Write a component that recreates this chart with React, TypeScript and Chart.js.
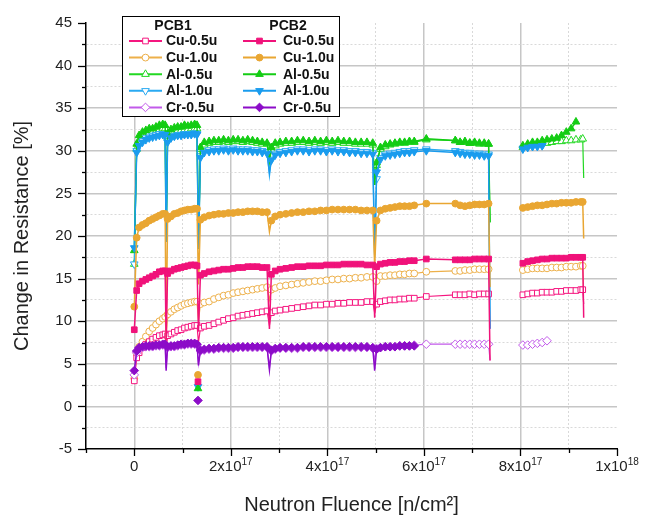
import React, { useEffect, useRef } from 'react';
import { Chart, registerables } from 'chart.js';

Chart.register(...registerables);

const FONT = "'Liberation Sans', Arial, Helvetica, sans-serif";

// Neutron fluence in units of 1e17 n/cm^2
const FLUENCE = [
  0, 0.05, 0.1, 0.17, 0.24, 0.31, 0.38, 0.45, 0.52, 0.59, 0.64, 0.66,
  0.69, 0.76, 0.83, 0.9, 0.97, 1.04, 1.11, 1.18, 1.25, 1.3, 1.33,
  1.37, 1.45, 1.55, 1.65, 1.75, 1.85, 1.95, 2.05, 2.15, 2.25, 2.35, 2.45, 2.55, 2.65, 2.75, 2.8,
  2.84, 2.92, 3.02, 3.14, 3.26, 3.38, 3.5, 3.62, 3.74, 3.86, 3.98, 4.1, 4.22, 4.34, 4.46, 4.58, 4.7, 4.82, 4.94, 4.98,
  5.02, 5.1, 5.2, 5.3, 5.4, 5.5, 5.6, 5.7, 5.8, 6.05, 6.65, 6.75, 6.85, 6.95, 7.05, 7.15, 7.25, 7.34, 7.37,
  7.7,
  8.05, 8.15, 8.25, 8.35, 8.45, 8.55, 8.65, 8.75, 8.85, 8.95, 9.05, 9.15, 9.25, 9.29, 9.31,
];
// interruptions of the irradiation (short dips, drawn without markers)
const DROP_FLUENCE = [0.66, 1.33, 2.8, 4.98, 7.37, 9.31];

const CU05_PCB1 = [
  3.0, 5.7, 6.3, 6.9, 7.3, 7.6, 7.9, 8.1, 8.3, 8.4, 8.5, 6.5,
  8.3, 8.5, 8.7, 8.9, 9.0, 9.2, 9.3, 9.4, 9.5, 9.5, 7.5,
  9.2, 9.4, 9.5, 9.7, 9.9, 10.1, 10.3, 10.4, 10.6, 10.7, 10.8, 10.9, 11.0, 11.1, 11.2, 9.5,
  11.0, 11.2, 11.3, 11.4, 11.5, 11.6, 11.7, 11.8, 11.9, 11.9, 12.0, 12.0, 12.1, 12.1, 12.2, 12.2, 12.2, 12.3, 12.3, 11.0,
  12.0, 12.3, 12.4, 12.5, 12.5, 12.6, 12.6, 12.7, 12.7, 12.9, 13.1, 13.1, 13.1, 13.2, 13.1, 13.2, 13.2, 13.2, 12.7,
  null,
  13.1, 13.2, 13.3, 13.3, 13.4, 13.4, 13.4, 13.5, 13.5, 13.6, 13.6, 13.6, 13.7, 13.7, 12.0,
];
const CU05_PCB2 = [
  9.0, 13.6, 14.4, 14.7, 14.9, 15.1, 15.3, 15.5, 15.8, 15.9, 15.9, 7.7,
  15.6, 15.9, 16.1, 16.2, 16.3, 16.4, 16.5, 16.6, 16.6, 16.5, 8.8,
  15.4, 15.6, 15.8, 15.9, 16.0, 16.1, 16.1, 16.2, 16.3, 16.3, 16.4, 16.4, 16.4, 16.3, 16.3, 9.1,
  15.5, 15.9, 16.1, 16.2, 16.3, 16.4, 16.4, 16.5, 16.5, 16.5, 16.6, 16.6, 16.6, 16.7, 16.7, 16.7, 16.7, 16.6, 16.6, 10.4,
  16.4, 16.7, 16.8, 16.9, 16.9, 17.0, 17.0, 17.1, 17.1, 17.3, 17.2, 17.2, 17.2, 17.2, 17.3, 17.3, 17.3, 17.3, 5.4,
  null,
  16.8, 17.0, 17.1, 17.2, 17.3, 17.3, 17.4, 17.4, 17.4, 17.4, 17.5, 17.5, 17.5, 17.5, 10.4,
];
const CU10_PCB1 = [
  3.3, 6.2, 7.0, 7.6, 8.2, 8.8, 9.2, 9.6, 10.0, 10.3, 10.5, 8.0,
  10.8, 11.1, 11.4, 11.6, 11.8, 12.0, 12.1, 12.2, 12.3, 12.3, 10.0,
  12.0, 12.2, 12.3, 12.6, 12.8, 13.0, 13.1, 13.3, 13.4, 13.5, 13.6, 13.7, 13.8, 13.9, 14.0, 12.5,
  13.7, 13.9, 14.1, 14.2, 14.3, 14.4, 14.5, 14.6, 14.7, 14.7, 14.8, 14.9, 14.9, 15.0, 15.0, 15.1, 15.1, 15.2, 15.2, 14.5,
  14.7, 15.3, 15.3, 15.4, 15.4, 15.5, 15.5, 15.6, 15.6, 15.8, 15.9, 15.9, 16.0, 16.0, 16.1, 16.1, 16.1, 16.1, 15.5,
  null,
  16.0, 16.1, 16.2, 16.2, 16.2, 16.2, 16.3, 16.3, 16.3, 16.4, 16.4, 16.4, 16.5, 16.5, 13.3,
];
const CU10_PCB2 = [
  11.7, 19.8, 21.0, 21.3, 21.5, 21.8, 22.0, 22.2, 22.4, 22.6, 22.6, 7.7,
  22.0, 22.3, 22.6, 22.7, 22.9, 23.0, 23.1, 23.1, 23.2, 23.2, 14.3,
  21.9, 22.2, 22.4, 22.5, 22.6, 22.6, 22.7, 22.7, 22.8, 22.8, 22.9, 22.9, 22.9, 22.8, 22.8, 20.5,
  21.8, 22.3, 22.5, 22.6, 22.7, 22.8, 22.8, 22.9, 22.9, 23.0, 23.0, 23.1, 23.1, 23.1, 23.1, 23.1, 23.0, 23.0, 23.0, 16.5,
  21.8, 23.0, 23.2, 23.3, 23.4, 23.5, 23.5, 23.5, 23.6, 23.8, 23.8, 23.6, 23.5, 23.6, 23.7, 23.7, 23.7, 23.8, 14.0,
  null,
  23.3, 23.4, 23.5, 23.6, 23.6, 23.7, 23.8, 23.8, 23.9, 23.9, 23.9, 24.0, 24.0, 24.0, 19.7,
];
const AL05_PCB1 = [
  16.7, 30.2, 31.2, 31.6, 31.9, 32.1, 32.2, 32.3, 32.5, 32.6, 32.6, 19.5,
  31.6, 32.1, 32.3, 32.4, 32.4, 32.5, 32.5, 32.6, 32.6, 32.6, 18.5,
  30.2, 30.7, 30.9, 31.0, 31.0, 31.1, 31.0, 31.1, 31.1, 31.0, 31.1, 31.0, 30.9, 30.8, 30.8, 28.5,
  30.1, 30.6, 30.8, 30.9, 30.9, 31.0, 31.0, 30.9, 31.0, 30.9, 31.0, 30.9, 31.0, 30.9, 30.9, 30.8, 30.8, 30.8, 30.7, 26.0,
  28.3, 30.2, 30.5, 30.7, 30.8, 30.9, 30.9, 31.0, 31.0, 31.3, 31.2, 31.0, 31.0, 30.9, 30.9, 30.8, 30.8, 30.8, 21.6,
  null,
  30.4, 30.6, 30.7, 30.8, 30.9, 30.9, 31.0, 31.1, 31.1, 31.2, 31.2, 31.3, 31.3, 31.4, 26.8,
];
const AL05_PCB2 = [
  18.3, 30.8, 31.8, 32.2, 32.4, 32.6, 32.6, 32.8, 33.0, 33.1, 33.0, 19.5,
  32.0, 32.5, 32.7, 32.8, 32.8, 33.0, 32.9, 33.0, 33.1, 33.0, 18.5,
  30.4, 31.0, 31.1, 31.2, 31.2, 31.3, 31.2, 31.3, 31.3, 31.2, 31.3, 31.2, 31.1, 31.0, 30.9, 29.0,
  30.4, 30.9, 31.0, 31.1, 31.1, 31.2, 31.2, 31.1, 31.2, 31.1, 31.2, 31.1, 31.2, 31.1, 31.1, 31.0, 31.0, 31.0, 30.9, 26.0,
  28.6, 30.4, 30.7, 30.8, 30.9, 31.0, 31.0, 31.1, 31.1, 31.4, 31.2, 31.0, 31.1, 30.9, 31.0, 30.9, 30.9, 30.8, 21.6,
  null,
  30.6, 30.8, 31.0, 31.0, 31.2, 31.3, 31.4, 31.5, 31.8, 32.2, 32.6, 33.4, null, null, null,
];
const AL10_PCB1 = [
  16.7, 30.0, 30.8, 31.2, 31.5, 31.7, 31.8, 31.9, 32.0, 32.0, 32.0, 19.3,
  31.2, 31.6, 31.8, 31.9, 31.9, 32.0, 32.0, 32.0, 32.1, 32.0, 18.5,
  29.4, 30.0, 30.1, 30.2, 30.2, 30.3, 30.2, 30.3, 30.2, 30.2, 30.2, 30.1, 30.1, 30.0, 29.9, 27.0,
  29.0, 29.7, 29.9, 30.0, 30.1, 30.2, 30.2, 30.1, 30.2, 30.2, 30.1, 30.2, 30.1, 30.1, 30.0, 30.0, 29.9, 29.9, 29.8, 17.8,
  26.7, 29.2, 29.6, 29.7, 29.8, 29.9, 30.0, 30.0, 30.1, 30.2, 30.0, 29.9, 29.8, 29.8, 29.7, 29.7, 29.6, 29.6, 9.1,
  null,
  30.3, 30.4, 30.5, 30.6, 30.6, null, null, null, null, null, null, null, null, null, null,
];
const AL10_PCB2 = [
  18.6, 29.8, 30.6, 31.0, 31.3, 31.5, 31.6, 31.7, 31.8, 31.9, 31.9, 19.3,
  31.0, 31.5, 31.7, 31.8, 31.8, 31.9, 31.9, 31.9, 32.0, 31.9, 18.5,
  29.2, 29.8, 29.9, 30.0, 30.0, 30.1, 30.0, 30.1, 30.0, 30.0, 30.0, 29.9, 29.9, 29.8, 29.7, 27.5,
  28.9, 29.5, 29.7, 29.8, 29.9, 30.0, 30.0, 29.9, 30.0, 30.0, 29.9, 30.0, 29.9, 29.9, 29.8, 29.8, 29.7, 29.7, 29.6, 17.8,
  27.5, 29.0, 29.4, 29.5, 29.6, 29.7, 29.8, 29.8, 29.9, 30.0, 29.8, 29.7, 29.6, 29.6, 29.5, 29.5, 29.4, 29.4, 9.1,
  null,
  30.2, 30.4, 30.5, 30.5, 30.6, null, null, null, null, null, null, null, null, null, null,
];
const CR05_PCB1 = [
  3.7, 6.3, 6.8, 6.9, 7.0, 7.0, 7.0, 7.1, 7.1, 7.2, 7.2, 4.5,
  6.9, 7.0, 7.0, 7.1, 7.2, 7.2, 7.3, 7.3, 7.3, 7.2, 5.0,
  6.5, 6.6, 6.7, 6.7, 6.8, 6.8, 6.8, 6.8, 6.9, 6.9, 6.9, 6.9, 6.9, 6.9, 6.9, 4.5,
  6.5, 6.7, 6.8, 6.8, 6.8, 6.8, 6.9, 6.9, 6.9, 6.9, 6.9, 6.9, 6.9, 6.9, 6.9, 6.9, 6.9, 6.9, 6.8, 5.5,
  6.8, 6.9, 7.0, 7.0, 7.0, 7.1, 7.1, 7.1, 7.2, 7.3, 7.3, 7.3, 7.3, 7.3, 7.3, 7.3, 7.3, 7.3, 5.4,
  null,
  7.2, 7.2, 7.3, 7.4, 7.5, 7.7, null, null, null, null, null, null, null, null, null,
];
const CR05_PCB2 = [
  4.2, 6.5, 6.9, 7.0, 7.1, 7.1, 7.1, 7.2, 7.2, 7.3, 7.3, 4.2,
  7.0, 7.1, 7.1, 7.2, 7.3, 7.3, 7.4, 7.4, 7.4, 7.3, 4.8,
  6.6, 6.7, 6.8, 6.8, 6.9, 6.9, 6.9, 6.9, 7.0, 7.0, 7.0, 7.0, 7.0, 7.0, 7.0, 4.3,
  6.6, 6.8, 6.9, 6.9, 6.9, 6.9, 7.0, 7.0, 7.0, 7.0, 7.0, 7.0, 7.0, 7.0, 7.0, 7.0, 7.0, 7.0, 6.9, 4.2,
  6.7, 6.9, 7.0, 7.0, 7.0, 7.1, 7.1, 7.1, 7.1, null, null, null, null, null, null, null, null, null, null,
  null,
  null, null, null, null, null, null, null, null, null, null, null, null, null, null, null,
];

// stray single readings (PCB2) at the second interruption
const STRAY_FLUENCE = 1.32;
const STRAY_VALUES = [2.9, 3.7, 2.1, 2.3, 0.7];

const MATERIALS = ['Cu-0.5u', 'Cu-1.0u', 'Al-0.5u', 'Al-1.0u', 'Cr-0.5u'];
const PCB1_SERIES = [CU05_PCB1, CU10_PCB1, AL05_PCB1, AL10_PCB1, CR05_PCB1];
const PCB2_SERIES = [CU05_PCB2, CU10_PCB2, AL05_PCB2, AL10_PCB2, CR05_PCB2];

const X_TICK_VALUES = [0, 2, 4, 6, 8, 10];
const X_TICK_BASE = ['0', '2x10', '4x10', '6x10', '8x10', '1x10'];
const X_TICK_EXP = ['', '17', '17', '17', '17', '18'];

const STYLES = [
  { c1: '#F5167F', c2: '#F0127A', shape: 'rect', rot: 0, r: 4 },
  { c1: '#EDB04A', c2: '#E9A632', shape: 'circle', rot: 0, r: 3.4 },
  { c1: '#22D822', c2: '#14CC14', shape: 'triangle', rot: 0, r: 4.4 },
  { c1: '#2AAAF2', c2: '#1A9CEE', shape: 'triangle', rot: 180, r: 4.4 },
  { c1: '#C25AEA', c2: '#8C0CC8', shape: 'rectRot', rot: 0, r: 4.3 },
];

function markerPath(ctx: CanvasRenderingContext2D, shape: string, rot: number, x: number, y: number, r: number) {
  ctx.beginPath();
  if (shape === 'rect') {
    const s = Math.SQRT1_2 * r;
    ctx.rect(x - s, y - s, 2 * s, 2 * s);
  } else if (shape === 'circle') {
    ctx.arc(x, y, r, 0, Math.PI * 2);
  } else if (shape === 'triangle') {
    let a = (rot * Math.PI) / 180;
    ctx.moveTo(x + Math.sin(a) * r, y - Math.cos(a) * r);
    a += (2 * Math.PI) / 3;
    ctx.lineTo(x + Math.sin(a) * r, y - Math.cos(a) * r);
    a += (2 * Math.PI) / 3;
    ctx.lineTo(x + Math.sin(a) * r, y - Math.cos(a) * r);
    ctx.closePath();
  } else {
    ctx.moveTo(x - r, y);
    ctx.lineTo(x, y - r);
    ctx.lineTo(x + r, y);
    ctx.lineTo(x, y + r);
    ctx.closePath();
  }
}

const overlayPlugin = {
  id: 'overlay',
  afterDraw(chart: any) {
    const { ctx, chartArea } = chart;
    const xs = chart.scales.x;
    const ys = chart.scales.y;
    ctx.save();
    // tick marks (outside)
    ctx.strokeStyle = '#000';
    ctx.lineWidth = 1.3;
    ys.ticks.forEach((t: any) => {
      const py = Math.round(ys.getPixelForValue(t.value)) + 0.5;
      const major = t.value % 5 === 0;
      ctx.beginPath();
      ctx.moveTo(chartArea.left, py);
      ctx.lineTo(chartArea.left - (major ? 8 : 4), py);
      ctx.stroke();
    });
    xs.ticks.forEach((t: any) => {
      const px = Math.round(xs.getPixelForValue(t.value)) + 0.5;
      const major = t.value % 2 === 0;
      ctx.beginPath();
      ctx.moveTo(px, chartArea.bottom);
      ctx.lineTo(px, chartArea.bottom + (major ? 7 : 4));
      ctx.stroke();
    });
    // x tick labels with superscript exponents
    ctx.fillStyle = '#222';
    ctx.textBaseline = 'alphabetic';
    ctx.textAlign = 'left';
    X_TICK_VALUES.forEach((v, i) => {
      const px = xs.getPixelForValue(v);
      ctx.font = `15px ${FONT}`;
      const w1 = ctx.measureText(X_TICK_BASE[i]).width;
      ctx.font = `10px ${FONT}`;
      const w2 = X_TICK_EXP[i] ? ctx.measureText(X_TICK_EXP[i]).width : 0;
      const x0 = px - (w1 + w2) / 2;
      const base = chartArea.bottom + 22;
      ctx.font = `15px ${FONT}`;
      ctx.fillText(X_TICK_BASE[i], x0, base);
      if (X_TICK_EXP[i]) {
        ctx.font = `10px ${FONT}`;
        ctx.fillText(X_TICK_EXP[i], x0 + w1, base - 6);
      }
    });
    // legend
    const bx = 122.5, by = 16.5, bw = 217, bh = 100;
    ctx.fillStyle = '#fff';
    ctx.fillRect(bx, by, bw, bh);
    ctx.strokeStyle = '#000';
    ctx.lineWidth = 1;
    ctx.strokeRect(bx, by, bw, bh);
    ctx.fillStyle = '#111';
    ctx.font = `bold 14px ${FONT}`;
    ctx.textAlign = 'center';
    ctx.textBaseline = 'middle';
    ctx.fillText('PCB1', 173, 26);
    ctx.fillText('PCB2', 288, 26);
    ctx.textAlign = 'left';
    MATERIALS.forEach((name, i) => {
      const st = STYLES[i];
      const y = 41 + i * 16.6;
      const cols = [
        { x1: 129, x2: 162, tx: 166, color: st.c1, filled: false },
        { x1: 243, x2: 276, tx: 283, color: st.c2, filled: true },
      ];
      cols.forEach((c) => {
        ctx.strokeStyle = c.color;
        ctx.lineWidth = 2;
        ctx.beginPath();
        ctx.moveTo(c.x1, y);
        ctx.lineTo(c.x2, y);
        ctx.stroke();
        markerPath(ctx, st.shape, st.rot, (c.x1 + c.x2) / 2, y, st.r);
        ctx.fillStyle = c.filled ? c.color : '#fff';
        ctx.fill();
        ctx.lineWidth = 1;
        ctx.stroke();
        ctx.fillStyle = '#111';
        ctx.font = `bold 14px ${FONT}`;
        ctx.fillText(name, c.tx, y + 0.5);
      });
    });
    ctx.restore();
  },
};

function buildDatasets() {
  const isDrop = (c: any) => !c.raw || c.raw.y == null || DROP_FLUENCE.includes(c.raw.x);
  const make = (i: number, values: (number | null)[], pcb: 1 | 2) => {
    const st = STYLES[i];
    const color = pcb === 1 ? st.c1 : st.c2;
    return {
      label: `${MATERIALS[i]} PCB${pcb}`,
      data: FLUENCE.map((x, k) => ({ x, y: values[k] ?? null })),
      borderColor: color,
      backgroundColor: color,
      borderWidth: pcb === 1 ? 1.2 : 1.5,
      pointStyle: st.shape,
      pointRotation: st.rot,
      pointRadius: (c: any) => (isDrop(c) ? 0 : st.r),
      pointBorderWidth: 1,
      pointBorderColor: color,
      pointBackgroundColor: pcb === 1 ? '#ffffff' : color,
      spanGaps: false,
      tension: 0,
    };
  };
  const stray = STRAY_VALUES.map((v, i) => {
    const st = STYLES[i];
    return {
      label: `${MATERIALS[i]} stray`,
      data: [{ x: STRAY_FLUENCE, y: v }],
      showLine: false,
      borderColor: st.c2,
      backgroundColor: st.c2,
      pointStyle: st.shape,
      pointRotation: st.rot,
      pointRadius: st.r,
      pointBorderWidth: 1,
      pointBorderColor: st.c2,
      pointBackgroundColor: st.c2,
    };
  });
  const drawOrder = [4, 0, 1, 3, 2];
  const pcb2 = drawOrder.map((i) => make(i, PCB2_SERIES[i], 2));
  const pcb1 = drawOrder.map((i) => make(i, PCB1_SERIES[i], 1));
  return [...stray, ...pcb2, ...pcb1];
}

export default function App() {
  const ref = useRef<HTMLCanvasElement>(null);
  useEffect(() => {
    if (!ref.current) return;
    const majorGrid = '#C6C6C6';
    const minorGrid = '#D9D9D9';
    const chart = new Chart(ref.current, {
      type: 'line',
      data: { datasets: buildDatasets() as any },
      options: {
        animation: false,
        responsive: false,
        devicePixelRatio: 1,
        layout: { padding: { top: 20, right: 29, left: 0, bottom: 0 } },
        plugins: { legend: { display: false }, tooltip: { enabled: false } },
        scales: {
          x: {
            type: 'linear',
            min: -1,
            max: 10,
            ticks: { stepSize: 1, display: false },
            grid: {
              drawTicks: false,
              color: (c: any) => {
                const v = c.tick?.value;
                if (v === undefined || v === -1 || v === 10) return 'rgba(0,0,0,0)';
                return v % 2 === 0 ? majorGrid : minorGrid;
              },
              lineWidth: (c: any) => (c.tick && c.tick.value % 2 === 0 ? 1.5 : 1),
            },
            border: {
              color: '#000',
              width: 1.5,
              dash: (c: any) => (c.tick && c.tick.value % 2 !== 0 ? [2, 2] : []),
            },
            title: {
              display: true,
              text: 'Neutron Fluence [n/cm²]',
              color: '#222',
              font: { family: FONT, size: 20 },
              padding: { top: 0, bottom: 3 },
            },
            afterFit: (s: any) => {
              s.height = 71;
            },
          },
          y: {
            min: -5,
            max: 45,
            ticks: {
              stepSize: 2.5,
              autoSkip: false,
              padding: 14,
              color: '#222',
              font: { family: FONT, size: 15 },
              callback: (v: any) => (Number(v) % 5 === 0 ? String(v) : ''),
            },
            grid: {
              drawTicks: false,
              color: (c: any) => {
                const v = c.tick?.value;
                if (v === undefined || v === -5 || v === 45) return 'rgba(0,0,0,0)';
                return v % 5 === 0 ? majorGrid : minorGrid;
              },
              lineWidth: (c: any) => (c.tick && c.tick.value % 5 === 0 ? 1.5 : 1),
            },
            border: {
              color: '#000',
              width: 1.5,
              dash: (c: any) => (c.tick && c.tick.value % 5 !== 0 ? [2, 2] : []),
            },
            title: {
              display: true,
              text: 'Change in Resistance [%]',
              color: '#222',
              font: { family: FONT, size: 20 },
              padding: { top: 10, bottom: 0 },
            },
            afterFit: (s: any) => {
              s.width = 86;
            },
          },
        },
      },
      plugins: [overlayPlugin],
    } as any);
    return () => chart.destroy();
  }, []);
  return (
    <div style={{ position: 'fixed', left: 0, top: 0, width: 646, height: 520, background: '#fff' }}>
      <canvas ref={ref} width={646} height={520} style={{ display: 'block', width: 646, height: 520 }} />
    </div>
  );
}
